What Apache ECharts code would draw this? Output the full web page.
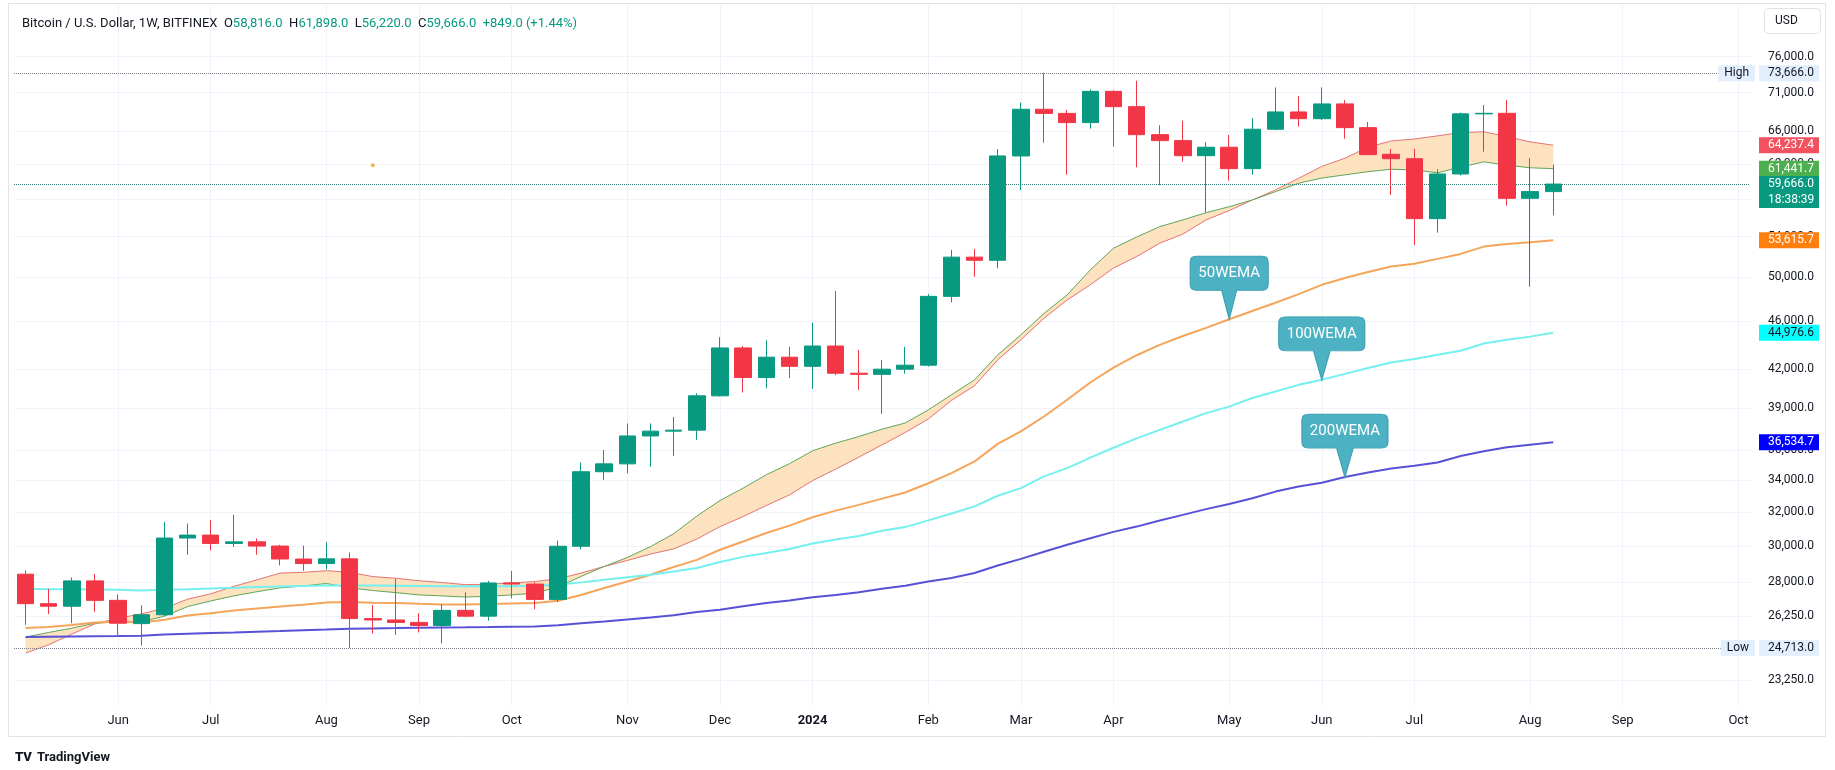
<!DOCTYPE html>
<html>
<head>
<meta charset="utf-8">
<title>BTCUSD 1W</title>
<script src="https://cdn.jsdelivr.net/npm/echarts@6/dist/echarts.min.js"></script>
<style>
  html, body { margin: 0; padding: 0; background: #fff; }
  #main { width: 1835px; height: 770px; }
</style>
</head>
<body>
<div id="main"></div>
<script>
// weekly bars (Monday open), last 8 are empty future weeks
const weeks = [
  "2023-05-08", "2023-05-15", "2023-05-22", "2023-05-29", "2023-06-05", "2023-06-12", "2023-06-19", "2023-06-26",
  "2023-07-03", "2023-07-10", "2023-07-17", "2023-07-24", "2023-07-31", "2023-08-07", "2023-08-14", "2023-08-21",
  "2023-08-28", "2023-09-04", "2023-09-11", "2023-09-18", "2023-09-25", "2023-10-02", "2023-10-09", "2023-10-16",
  "2023-10-23", "2023-10-30", "2023-11-06", "2023-11-13", "2023-11-20", "2023-11-27", "2023-12-04", "2023-12-11",
  "2023-12-18", "2023-12-25", "2024-01-01", "2024-01-08", "2024-01-15", "2024-01-22", "2024-01-29", "2024-02-05",
  "2024-02-12", "2024-02-19", "2024-02-26", "2024-03-04", "2024-03-11", "2024-03-18", "2024-03-25", "2024-04-01",
  "2024-04-08", "2024-04-15", "2024-04-22", "2024-04-29", "2024-05-06", "2024-05-13", "2024-05-20", "2024-05-27",
  "2024-06-03", "2024-06-10", "2024-06-17", "2024-06-24", "2024-07-01", "2024-07-08", "2024-07-15", "2024-07-22",
  "2024-07-29", "2024-08-05", "2024-08-12", "2024-08-19", "2024-08-26", "2024-09-02", "2024-09-09", "2024-09-16",
  "2024-09-23", "2024-09-30", "2024-10-07"
];

const opens = [28430, 26880, 26750, 28070, 27050, 25880, 26320, 30450, 30620, 30140, 30230, 29990, 29260, 29010, 29270, 26130, 26060, 25940, 25790, 26540, 26250, 27960, 27900, 27100, 29980, 34540, 35060, 36970, 37310, 37380, 39900, 43700, 41310, 42940, 42200, 43860, 41650, 41560, 41970, 42290, 48200, 51930, 51620, 62940, 68780, 68240, 67060, 71160, 69120, 65540, 64800, 62970, 63990, 61440, 66220, 68430, 67560, 69480, 66420, 63140, 62610, 55870, 60820, 68180, 68250, 58070, 58816];
const highs = [28630, 27640, 28250, 28440, 27360, 26800, 31400, 31300, 31520, 31820, 30430, 30060, 30020, 30210, 29630, 26820, 28170, 26400, 26850, 27470, 28070, 28610, 27990, 30300, 35150, 35990, 37860, 37860, 38320, 40100, 44600, 43860, 44340, 43790, 45850, 48700, 43540, 42720, 43790, 48400, 52650, 52750, 63770, 69650, 73666, 68700, 71430, 71300, 72610, 66730, 67300, 64600, 65500, 67620, 71700, 70530, 71700, 70000, 67140, 63780, 63800, 61370, 68350, 69340, 70000, 62660, 61898];
const lows = [25820, 26350, 25900, 26470, 25290, 24830, 26250, 29500, 29740, 29940, 29500, 28900, 28610, 28690, 24713, 25400, 25330, 25450, 24930, 26200, 26030, 27150, 26600, 26960, 29800, 34020, 34430, 34860, 35590, 36700, 39850, 40150, 40470, 41270, 40430, 41500, 40340, 38560, 41630, 42180, 47660, 50030, 50840, 59000, 64550, 60740, 66300, 64060, 61600, 59530, 62260, 56510, 60060, 60750, 66100, 66550, 67400, 65040, 63050, 58440, 53150, 54400, 60650, 63450, 57260, 49100, 56220];
const closes = [26880, 26750, 28070, 27050, 25900, 26320, 30450, 30620, 30140, 30230, 29990, 29260, 29010, 29270, 26130, 26060, 25940, 25790, 26540, 26250, 27960, 27900, 27100, 29980, 34540, 35060, 36970, 37310, 37380, 39900, 43700, 41310, 42940, 42200, 43860, 41650, 41560, 41970, 42290, 48200, 51930, 51620, 62940, 68780, 68240, 67060, 71160, 69120, 65540, 64800, 62970, 63990, 61440, 66220, 68430, 67560, 69480, 66420, 63090, 62610, 55870, 60820, 68180, 68250, 58070, 58817, 59666];

// bull market support band + weekly EMAs
const sma20 = [24470, 24860, 25370, 25870, 26150, 26360, 26650, 27110, 27390, 27780, 28130, 28490, 28530, 28620, 28530, 28300, 28210, 28080, 27980, 27870, 27890, 27960, 28035, 28180, 28490, 28850, 29180, 29540, 29830, 30390, 31120, 31720, 32390, 33050, 33960, 34710, 35510, 36350, 37210, 38180, 39550, 40670, 42720, 44380, 46240, 47870, 49270, 50860, 51980, 53330, 54250, 55740, 56730, 57890, 59000, 60330, 61700, 62670, 64000, 64760, 65000, 65390, 65800, 65900, 65290, 64650, 64237.4];
const ema21 = [25230, 25450, 25660, 25900, 25970, 25970, 26250, 26730, 27020, 27280, 27500, 27700, 27800, 27930, 27710, 27560, 27450, 27330, 27280, 27220, 27260, 27330, 27420, 27740, 28310, 28850, 29350, 29960, 30700, 31750, 32700, 33480, 34340, 35070, 35940, 36470, 36930, 37450, 37890, 38850, 39980, 41130, 43130, 44800, 46670, 48330, 50690, 52820, 53950, 55030, 55740, 56510, 57150, 57890, 58810, 59760, 60350, 60720, 61090, 61370, 61290, 60960, 61620, 62240, 61850, 61540, 61441.7];
const ema50 = [25660, 25710, 25810, 25940, 25970, 25940, 26070, 26280, 26390, 26530, 26630, 26730, 26820, 26940, 26960, 26930, 26910, 26870, 26840, 26840, 26860, 26890, 26910, 27030, 27330, 27690, 28035, 28400, 28820, 29215, 29780, 30250, 30740, 31180, 31680, 32080, 32430, 32820, 33200, 33790, 34450, 35220, 36420, 37290, 38360, 39600, 40920, 42100, 43100, 43950, 44700, 45400, 46150, 46880, 47620, 48400, 49270, 49910, 50490, 51010, 51280, 51760, 52250, 52980, 53240, 53420, 53615.7];
const ema100 = [27650, 27630, 27630, 27620, 27600, 27560, 27600, 27630, 27670, 27700, 27740, 27770, 27800, 27830, 27830, 27820, 27810, 27800, 27790, 27780, 27780, 27780, 27810, 27860, 27990, 28126, 28270, 28400, 28580, 28770, 29090, 29380, 29600, 29820, 30140, 30370, 30570, 30870, 31090, 31490, 31900, 32340, 33000, 33480, 34240, 34780, 35480, 36150, 36800, 37400, 38000, 38610, 39090, 39730, 40230, 40740, 41130, 41600, 42060, 42510, 42790, 43140, 43470, 44070, 44380, 44650, 44976.6];
const ema200 = [25230, 25245, 25260, 25270, 25280, 25295, 25345, 25390, 25425, 25450, 25485, 25520, 25560, 25590, 25630, 25645, 25660, 25680, 25695, 25700, 25710, 25730, 25740, 25800, 25900, 25980, 26080, 26180, 26300, 26460, 26567, 26750, 26910, 27040, 27210, 27330, 27470, 27650, 27810, 28035, 28220, 28490, 28900, 29270, 29670, 30060, 30440, 30810, 31120, 31480, 31820, 32170, 32490, 32840, 33260, 33580, 33830, 34190, 34490, 34750, 34930, 35150, 35590, 35910, 36180, 36360, 36534.7];

const priceTicks = [76000, 71000, 66000, 62000, 58000, 54000, 50000, 46000, 42000, 39000, 36000, 34000, 32000, 30000, 28000, 26250, 23250];
const priceRange = [22130, 83850];
const liveTime = "18:38:39";
const dotMarks = [["2023-08-21", 61840]];
const callouts = [
  { name: "50WEMA", at: 52, w: 78 },
  { name: "100WEMA", at: 56, w: 86 },
  { name: "200WEMA", at: 57, w: 86 }
];
const monthNames = ["Jan", "Feb", "Mar", "Apr", "May", "Jun", "Jul", "Aug", "Sep", "Oct", "Nov", "Dec"];

const lg = v => Math.log10(v);
const fmt = v => v.toLocaleString("en-US", { minimumFractionDigits: 1, maximumFractionDigits: 1 });
const FONT = "Roboto";
const UP = "#089981", DOWN = "#f23645";

const last = closes.length - 1;
const chg = closes[last] - closes[last - 1];
const pct = chg / closes[last - 1] * 100;
const sign = chg >= 0 ? "+" : "";
const hiVal = Math.max(...highs);
const loVal = Math.min(...lows);

const candleData = opens.map((o, i) => [lg(o), lg(closes[i]), lg(lows[i]), lg(highs[i])]);
const bandBase = sma20.map((v, i) => Math.min(lg(v), lg(ema21[i])));
const bandDiff = sma20.map((v, i) => Math.abs(lg(v) - lg(ema21[i])));
const monthWeeks = weeks.filter(w => new Date(w).getUTCDate() <= 7);

const calloutPath = "path://M6,0 L72,0 Q78,0 78,6 L78,28 Q78,34 72,34 L46.5,34 L39,63 L31.5,34 L6,34 Q0,34 0,28 L0,6 Q0,0 6,0 Z";

function tag(value, bg, fg) {
  return {
    yAxis: lg(value),
    lineStyle: { width: 0, color: "transparent" },
    label: {
      show: true, position: "end", distance: 9, formatter: fmt(value),
      color: fg, backgroundColor: bg, padding: [2, 9, 2, 9], width: 42,
      lineHeight: 12, fontSize: 12, fontFamily: FONT
    }
  };
}

function calloutFor(name, arr) {
  const c = callouts.find(x => x.name === name);
  return {
    symbol: calloutPath,
    symbolSize: [c.w, 63],
    symbolOffset: [0, "-50%"],
    symbolKeepAspect: false,
    silent: true,
    itemStyle: { color: "#4cb2c3", borderColor: "#3e9fb0", borderWidth: 1 },
    label: {
      show: true, position: "inside", offset: [0, -14],
      formatter: name, color: "#fff", fontSize: 15, fontFamily: FONT
    },
    data: [{ coord: [weeks[c.at], lg(arr[c.at])] }]
  };
}

function emaLine(name, arr, color, width) {
  return {
    name: name, type: "line", data: arr.map(lg), symbol: "none", z: 3,
    lineStyle: { color: color, width: width }, silent: true
  };
}

const chart = echarts.init(document.getElementById("main"));

const header = "{n|Bitcoin / U.S. Dollar, 1W, BITFINEX}  " +
  "{n|O}{v|" + fmt(opens[last]) + "}  {n|H}{v|" + fmt(highs[last]) + "}  " +
  "{n|L}{v|" + fmt(lows[last]) + "}  {n|C}{v|" + fmt(closes[last]) + "}  " +
  "{v|" + sign + fmt(chg) + " (" + sign + pct.toFixed(2) + "%)}";

const s50 = emaLine("50WEMA", ema50, "#f5a55a", 2);
s50.markPoint = calloutFor("50WEMA", ema50);
s50.markLine = { symbol: "none", silent: true, precision: 8, data: [tag(ema50[last], "#ff7f0e", "#fff")] };

const s100 = emaLine("100WEMA", ema100, "#74f0ee", 2);
s100.markPoint = calloutFor("100WEMA", ema100);
s100.markLine = { symbol: "none", silent: true, precision: 8, data: [tag(ema100[last], "#00ffff", "#131722")] };

const s200 = emaLine("200WEMA", ema200, "#5751d6", 2);
s200.markPoint = calloutFor("200WEMA", ema200);
s200.markLine = { symbol: "none", silent: true, precision: 8, data: [tag(ema200[last], "#0000ff", "#fff")] };

const sSma = emaLine("SMA20", sma20, "#e57373", 1);
sSma.markLine = { symbol: "none", silent: true, precision: 8, data: [tag(sma20[last], "#f2525f", "#fff")] };

const sEma21 = emaLine("EMA21", ema21, "#5fa65a", 1);
sEma21.markLine = { symbol: "none", silent: true, precision: 8, data: [tag(ema21[last], "#4caf50", "#fff")] };

const hlLabel = {
  backgroundColor: "#e3effd", color: "#131722", lineHeight: 12, fontSize: 12, fontFamily: FONT
};

chart.setOption({
  animation: false,
  backgroundColor: "#ffffff",
  title: [
    {
      left: 17, top: 12, text: header,
      textStyle: {
        fontSize: 13, fontFamily: FONT, fontWeight: "normal",
        rich: {
          n: { color: "#131722", fontSize: 13, fontFamily: FONT },
          v: { color: UP, fontSize: 13, fontFamily: FONT }
        }
      }
    },
    {
      left: 10, top: 744, text: "{l|TV} {t|TradingView}",
      textStyle: {
        rich: {
          l: { color: "#131722", fontSize: 13, fontWeight: 900, fontFamily: FONT },
          t: { color: "#131722", fontSize: 13, fontFamily: FONT }
        }
      }
    }
  ],
  grid: { left: 14, right: 85, top: 5, bottom: 64, containLabel: false },
  xAxis: {
    type: "category",
    data: weeks,
    boundaryGap: true,
    axisLine: { show: false },
    axisTick: { show: false },
    splitLine: { show: false },
    axisLabel: {
      interval: (idx, val) => new Date(val).getUTCDate() <= 7,
      formatter: val => {
        const d = new Date(val);
        return d.getUTCMonth() === 0 ? "{b|" + d.getUTCFullYear() + "}" : monthNames[d.getUTCMonth()];
      },
      color: "#131722", fontSize: 13, fontFamily: FONT, margin: 8, hideOverlap: false,
      rich: { b: { fontWeight: "bold", fontSize: 13, fontFamily: FONT, color: "#131722" } }
    }
  },
  yAxis: {
    type: "value",
    position: "right",
    min: lg(priceRange[0]),
    max: lg(priceRange[1]),
    axisLine: { show: false },
    axisTick: { show: false, customValues: priceTicks.map(lg) },
    splitLine: { show: true, lineStyle: { color: "#f0f3fa", width: 1 } },
    axisLabel: {
      customValues: priceTicks.map(lg),
      formatter: v => fmt(Math.pow(10, v)),
      color: "#131722", fontSize: 12, fontFamily: FONT, margin: 18
    }
  },
  graphic: [
    { type: "rect", silent: true, z: 0, shape: { x: 8.5, y: 3.5, width: 1817, height: 733 },
      style: { fill: "none", stroke: "#e0e3eb", lineWidth: 1 } },
    { type: "rect", silent: true, z: 10, shape: { x: 1764.5, y: 8.5, width: 56, height: 25, r: 4 },
      style: { fill: "#fff", stroke: "#e0e3eb", lineWidth: 1 } },
    { type: "text", silent: true, z: 11, x: 1775, y: 21,
      style: { text: "USD", fill: "#131722", font: "12px Roboto", verticalAlign: "middle" } }
  ],
  series: [
    {
      name: "bandBase", type: "line", data: bandBase, stack: "band", symbol: "none", silent: true, z: 1,
      lineStyle: { width: 0, opacity: 0 },
      markLine: {
        symbol: "none", silent: true, z: 0,
        label: { show: false },
        lineStyle: { color: "#f0f3fa", width: 1, type: "solid" },
        data: monthWeeks.map(w => ({ xAxis: w }))
      }
    },
    {
      name: "band", type: "line", data: bandDiff, stack: "band", symbol: "none", silent: true, z: 1,
      lineStyle: { width: 0, opacity: 0 },
      areaStyle: { color: "#fde2bf", opacity: 1 }
    },
    sSma,
    sEma21,
    s50,
    s100,
    s200,
    {
      name: "dot", type: "scatter", z: 4, silent: true, symbolSize: 4,
      itemStyle: { color: "#f0a030" },
      data: dotMarks.map(d => [d[0], lg(d[1])])
    },
    {
      name: "BTCUSD", type: "candlestick", data: candleData, barWidth: 17, z: 6,
      itemStyle: { color: UP, color0: DOWN, borderColor: UP, borderColor0: DOWN, borderWidth: 1 },
      markLine: {
        symbol: "none", silent: true, z: 5, precision: 8,
        data: [
          {
            yAxis: lg(hiVal), lineStyle: { color: "#787b86", type: "dotted", width: 1 },
            label: Object.assign({ show: true, position: "insideEnd", distance: -5, formatter: "High", padding: [2, 6, 2, 6] }, hlLabel)
          },
          {
            yAxis: lg(hiVal), lineStyle: { width: 0, color: "transparent" },
            label: Object.assign({ show: true, position: "end", distance: 9, formatter: fmt(hiVal), padding: [2, 9, 2, 9], width: 42 }, hlLabel)
          },
          {
            yAxis: lg(loVal), lineStyle: { color: "#787b86", type: "dotted", width: 1 },
            label: Object.assign({ show: true, position: "insideEnd", distance: -5, formatter: "Low", padding: [2, 6, 2, 6] }, hlLabel)
          },
          {
            yAxis: lg(loVal), lineStyle: { width: 0, color: "transparent" },
            label: Object.assign({ show: true, position: "end", distance: 9, formatter: fmt(loVal), padding: [2, 9, 2, 9], width: 42 }, hlLabel)
          },
          {
            yAxis: lg(closes[last]), lineStyle: { color: "#2f7f76", type: "dotted", width: 1 },
            label: {
              show: true, position: "end", distance: 9,
              formatter: "{s| }\n{p|" + fmt(closes[last]) + "}\n{p|" + liveTime + "}",
              rich: {
                s: { height: 16, lineHeight: 16, fontSize: 12 },
                p: { backgroundColor: UP, color: "#fff", width: 51, height: 16, lineHeight: 16,
                     padding: [0, 0, 0, 9], fontSize: 12, fontFamily: FONT }
              }
            }
          }
        ]
      }
    }
  ]
});
</script>
</body>
</html>
